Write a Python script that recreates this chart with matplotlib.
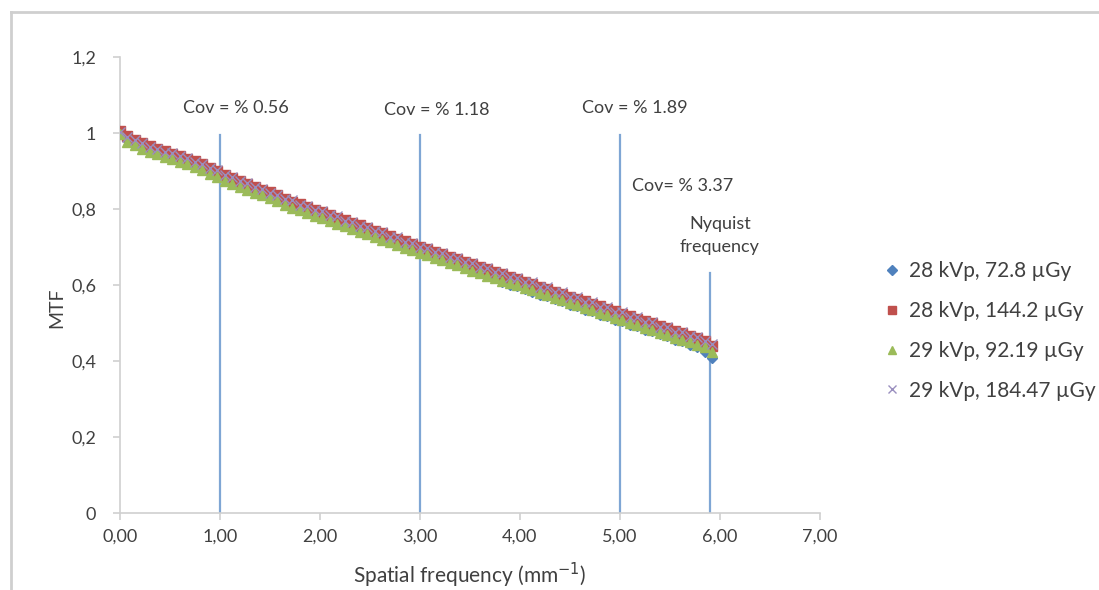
import matplotlib
matplotlib.use("Agg")
import matplotlib.pyplot as plt
from matplotlib.lines import Line2D
from matplotlib.ticker import FuncFormatter

freq = [0.000, 0.075, 0.150, 0.225, 0.300, 0.375, 0.450, 0.525, 0.600, 0.675,
        0.750, 0.825, 0.900, 0.975, 1.050, 1.125, 1.200, 1.275, 1.350, 1.425,
        1.500, 1.575, 1.650, 1.725, 1.800, 1.875, 1.950, 2.025, 2.100, 2.175,
        2.250, 2.325, 2.400, 2.475, 2.550, 2.625, 2.700, 2.775, 2.850, 2.925,
        3.000, 3.075, 3.150, 3.225, 3.300, 3.375, 3.450, 3.525, 3.600, 3.675,
        3.750, 3.825, 3.900, 3.975, 4.050, 4.125, 4.200, 4.275, 4.350, 4.425,
        4.500, 4.575, 4.650, 4.725, 4.800, 4.875, 4.950, 5.025, 5.100, 5.175,
        5.250, 5.325, 5.400, 5.475, 5.550, 5.625, 5.700, 5.775, 5.850, 5.925]

mtf_28_72 = [1.002, 0.981, 0.970, 0.962, 0.953, 0.947, 0.940, 0.934, 0.928, 0.921,
             0.913, 0.905, 0.896, 0.887, 0.878, 0.870, 0.862, 0.853, 0.846, 0.838,
             0.831, 0.823, 0.815, 0.807, 0.800, 0.793, 0.786, 0.779, 0.772, 0.765,
             0.758, 0.751, 0.744, 0.737, 0.730, 0.723, 0.716, 0.709, 0.702, 0.695,
             0.688, 0.681, 0.674, 0.667, 0.660, 0.653, 0.645, 0.638, 0.632, 0.624,
             0.618, 0.609, 0.600, 0.597, 0.590, 0.583, 0.574, 0.572, 0.563, 0.557,
             0.548, 0.544, 0.534, 0.531, 0.522, 0.519, 0.508, 0.505, 0.496, 0.493,
             0.482, 0.480, 0.470, 0.466, 0.456, 0.452, 0.442, 0.438, 0.425, 0.408]

mtf_28_144 = [1.005, 0.992, 0.982, 0.973, 0.965, 0.958, 0.952, 0.946, 0.940, 0.933,
              0.926, 0.918, 0.909, 0.900, 0.891, 0.883, 0.875, 0.867, 0.859, 0.851,
              0.844, 0.836, 0.828, 0.820, 0.813, 0.806, 0.799, 0.792, 0.785, 0.778,
              0.771, 0.764, 0.757, 0.750, 0.743, 0.736, 0.729, 0.722, 0.715, 0.708,
              0.701, 0.694, 0.688, 0.681, 0.674, 0.668, 0.661, 0.655, 0.648, 0.642,
              0.635, 0.629, 0.622, 0.616, 0.609, 0.603, 0.596, 0.590, 0.583, 0.577,
              0.570, 0.564, 0.557, 0.551, 0.544, 0.538, 0.531, 0.525, 0.518, 0.512,
              0.505, 0.499, 0.492, 0.486, 0.480, 0.474, 0.467, 0.461, 0.452, 0.440]

mtf_29_92 = [0.998, 0.978, 0.968, 0.959, 0.951, 0.944, 0.938, 0.931, 0.925, 0.918,
             0.910, 0.902, 0.893, 0.884, 0.875, 0.867, 0.859, 0.851, 0.843, 0.836,
             0.829, 0.821, 0.812, 0.804, 0.797, 0.790, 0.783, 0.776, 0.769, 0.762,
             0.755, 0.748, 0.741, 0.734, 0.727, 0.720, 0.713, 0.706, 0.699, 0.692,
             0.685, 0.678, 0.672, 0.665, 0.658, 0.652, 0.645, 0.638, 0.632, 0.625,
             0.619, 0.612, 0.606, 0.599, 0.592, 0.586, 0.579, 0.573, 0.566, 0.560,
             0.553, 0.547, 0.540, 0.534, 0.527, 0.521, 0.514, 0.508, 0.501, 0.495,
             0.488, 0.482, 0.475, 0.469, 0.462, 0.456, 0.449, 0.443, 0.436, 0.425]

mtf_29_184 = [1.003, 0.990, 0.981, 0.974, 0.964, 0.959, 0.951, 0.947, 0.939, 0.934,
              0.925, 0.919, 0.908, 0.902, 0.890, 0.885, 0.874, 0.869, 0.858, 0.853,
              0.843, 0.838, 0.827, 0.823, 0.812, 0.808, 0.798, 0.795, 0.784, 0.781,
              0.770, 0.767, 0.756, 0.753, 0.742, 0.739, 0.728, 0.726, 0.714, 0.712,
              0.700, 0.698, 0.687, 0.685, 0.673, 0.672, 0.660, 0.659, 0.647, 0.646,
              0.634, 0.633, 0.621, 0.620, 0.608, 0.607, 0.594, 0.594, 0.581, 0.581,
              0.568, 0.568, 0.555, 0.555, 0.542, 0.542, 0.529, 0.529, 0.516, 0.516,
              0.503, 0.503, 0.490, 0.490, 0.477, 0.477, 0.465, 0.463, 0.452, 0.445]

series_labels = ["28 kVp, 72.8 µGy", "28 kVp, 144.2 µGy", "29 kVp, 92.19 µGy", "29 kVp, 184.47 µGy"]

vline_x = [1.0, 3.0, 5.0]
vline_top = 0.995
nyquist_x = 5.90
nyquist_top = 0.632
cov_labels = ["Cov = % 0.56", "Cov = % 1.18", "Cov = % 1.89"]
cov_label_x = [1.16, 3.17, 5.15]
cov_label_y = [1.066, 1.060, 1.066]

plt.rcParams['font.family'] = ['Lato', 'DejaVu Sans']
txt = '#404040'

fig = plt.figure(figsize=(10.99, 5.90), dpi=100)
ax = fig.add_axes([0.109, 0.1305, 0.637, 0.7725])

ax.plot(freq, mtf_28_72, linestyle='none', marker='D', ms=5.5, color='#4F81BD', label=series_labels[0], zorder=3)
ax.plot(freq, mtf_28_144, linestyle='none', marker='s', ms=6.5, color='#C0504D', label=series_labels[1], zorder=3)
ax.plot(freq, mtf_29_92, linestyle='none', marker='^', ms=7.5, color='#9BBB59', label=series_labels[2], zorder=3)
ax.plot(freq, mtf_29_184, linestyle='none', marker='x', ms=6.5, mew=1.0, color='#9a8fbf', label=series_labels[3], zorder=4)

for xv in vline_x:
    ax.plot([xv, xv], [0, vline_top], color='#7fa6d4', lw=1.6, zorder=2)
ax.plot([nyquist_x, nyquist_x], [0, nyquist_top], color='#7fa6d4', lw=1.6, zorder=2)

for lab, xx, yy in zip(cov_labels, cov_label_x, cov_label_y):
    ax.text(xx, yy, lab, ha='center', va='center', fontsize=13, color=txt)
ax.text(5.63, 0.861, "Cov= % 3.37", ha='center', va='center', fontsize=13, color=txt)
ax.text(6.00, 0.730, "Nyquist\nfrequency", ha='center', va='center', fontsize=13, color=txt, linespacing=1.5)

ax.set_xlim(0, 7)
ax.set_ylim(0, 1.2)
ax.set_xticks([0, 1, 2, 3, 4, 5, 6, 7])
ax.set_yticks([0, 0.2, 0.4, 0.6, 0.8, 1.0, 1.2])
ax.xaxis.set_major_formatter(FuncFormatter(lambda v, p: f"{v:.2f}".replace('.', ',')))
def yfmt(v, p):
    if abs(v) < 1e-9:
        return "0"
    if abs(v - 1) < 1e-9:
        return "1"
    return f"{v:.1f}".replace('.', ',')
ax.yaxis.set_major_formatter(FuncFormatter(yfmt))

for s in ['top', 'right']:
    ax.spines[s].set_visible(False)
for s in ['left', 'bottom']:
    ax.spines[s].set_color('#d0d0d0')
    ax.spines[s].set_linewidth(1.2)
ax.tick_params(axis='both', colors='#d0d0d0', labelcolor=txt, labelsize=13, length=5, width=1.2, direction='out')
ax.tick_params(axis='x', pad=6)
ax.tick_params(axis='y', pad=12)

ax.set_xlabel("Spatial frequency (mm$^{-1}$)", fontsize=15, color=txt, labelpad=12)
ax.set_ylabel("MTF", fontsize=14, color=txt)
ax.yaxis.set_label_coords(-0.078, 0.45)

leg = fig.legend(handles=ax.get_lines()[:4], labels=series_labels, loc='center left',
                 bbox_to_anchor=(0.806, 0.439), frameon=False, fontsize=15,
                 labelcolor=txt, handlelength=0.6, handletextpad=0.5, labelspacing=0.95,
                 borderpad=0, borderaxespad=0, markerscale=0.85)

fig.add_artist(Line2D([0.010, 1.0], [0.980, 0.980], color='#cfcfcf', lw=2.0, transform=fig.transFigure))
fig.add_artist(Line2D([0.010, 0.010], [0.0, 0.980], color='#cfcfcf', lw=2.0, transform=fig.transFigure))

fig.savefig("out.png", dpi=100)
